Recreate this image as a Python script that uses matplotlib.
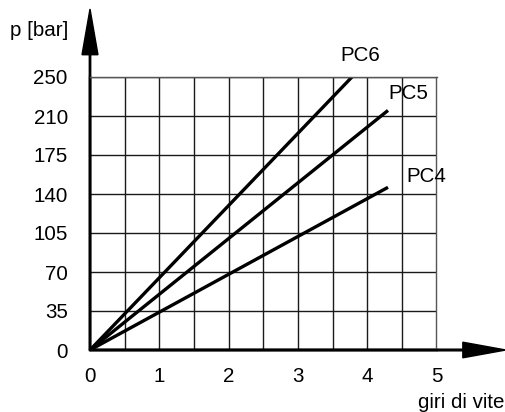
import numpy as np
import matplotlib.pyplot as plt

plt.rcParams['font.family'] = ['Liberation Sans', 'DejaVu Sans']

# Data (each curve is a straight line from the origin)
curves = ['PC4', 'PC5', 'PC6']
giri = [[0, 4.3], [0, 4.3], [0, 3.78]]
pressione = [[0, 146], [0, 215], [0, 245]]

# y grid is evenly spaced, the top line carries the label 250
y_ticks = [0, 35, 70, 105, 140, 175, 210, 245]
y_labels = ['0', '35', '70', '105', '140', '175', '210', '250']
x_ticks = [0, 1, 2, 3, 4, 5]

W, H = 506, 412
fs = 14.8
fig = plt.figure(figsize=(W / 100, H / 100), dpi=100)
ax = fig.add_axes([90 / W, 62 / H, 346.5 / W, 273 / H])

ax.set_xlim(0, 5)
ax.set_ylim(0, 245)
ax.set_xticks(x_ticks)
ax.set_xticks(np.arange(0, 5.01, 0.5), minor=True)
ax.set_yticks(y_ticks)
ax.set_yticklabels(y_labels)
ax.tick_params(which='both', length=0, labelsize=fs)
ax.tick_params(axis='y', pad=16)
ax.tick_params(axis='x', pad=12)

ax.grid(True, which='both', axis='x', color='#1a1a1a', linewidth=1.0)
ax.grid(True, which='major', axis='y', color='#1a1a1a', linewidth=1.0)
ax.set_axisbelow(True)

for side in ['top', 'right']:
    ax.spines[side].set_color('#555555')
    ax.spines[side].set_linewidth(1.0)
for side in ['left', 'bottom']:
    ax.spines[side].set_color('black')
    ax.spines[side].set_linewidth(1.7)

for name, x, y in zip(curves, giri, pressione):
    ax.plot(x, y, color='black', linewidth=2.4, solid_capstyle='butt')

# curve labels
ax.text(3.61, 264, 'PC6', fontsize=fs, ha='left', va='center', clip_on=False)
ax.text(4.30, 230, 'PC5', fontsize=fs, ha='left', va='center', clip_on=False)
ax.text(4.56, 156, 'PC4', fontsize=fs, ha='left', va='center', clip_on=False)

# axis arrows
ax.arrow(0, 0, 0, 306, width=0.02, head_width=0.23, head_length=41,
         length_includes_head=True, color='black', clip_on=False)
ax.arrow(0, 0, 6.0, 0, width=1.5, head_width=14, head_length=0.62,
         length_includes_head=True, color='black', clip_on=False)

fig.text(10 / W, 1 - 30 / H, 'p [bar]', fontsize=fs, ha='left', va='center')
fig.text(418 / W, 1 - 403 / H, 'giri di vite', fontsize=fs, ha='left', va='center')

fig.savefig('out.png', dpi=100)
